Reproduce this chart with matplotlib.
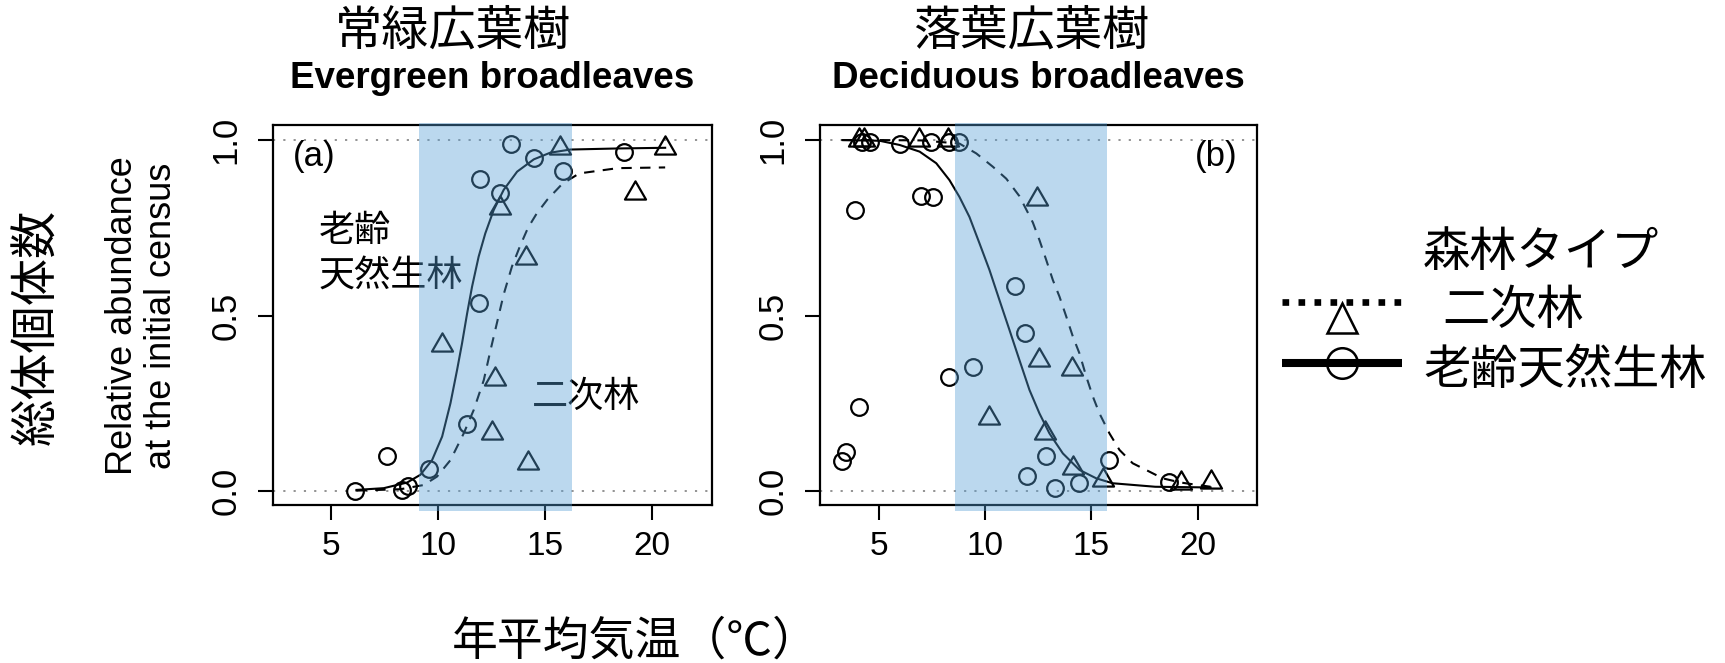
import matplotlib
matplotlib.use("Agg")
import matplotlib.pyplot as plt
from matplotlib.path import Path

plt.rcParams['font.family'] = ['Liberation Sans', 'Noto Sans CJK JP', 'DejaVu Sans']
JP = ['Noto Sans CJK JP', 'DejaVu Sans']

# ---- data ----
# (a) evergreen broadleaves
a_old_x = [6.1, 7.6, 8.3, 8.6, 9.55, 11.35, 11.92, 11.96, 12.9, 13.4, 14.5, 15.85, 18.67]
a_old_y = [0.0, 0.10, 0.004, 0.013, 0.062, 0.19, 0.535, 0.89, 0.85, 0.99, 0.95, 0.912, 0.967]
a_sec_x = [10.18, 12.52, 12.64, 12.9, 14.1, 14.2, 15.7, 19.2, 20.6]
a_sec_y = [0.415, 0.165, 0.32, 0.805, 0.665, 0.08, 0.976, 0.848, 0.977]

a_old_cx = [6.17, 7.45, 8.54, 9.16, 9.71, 10.18, 10.57, 10.88, 11.11, 11.35, 11.58,
            11.89, 12.2, 12.59, 13.06, 13.69, 14.47, 15.24, 16.18, 18.36, 20.62]
a_old_cy = [0.003, 0.008, 0.024, 0.046, 0.088, 0.155, 0.25, 0.345, 0.42, 0.506, 0.582,
            0.668, 0.734, 0.80, 0.858, 0.91, 0.945, 0.964, 0.973, 0.976, 0.978]
a_sec_cx = [6.17, 8.23, 9.32, 9.94, 10.57, 11.19, 11.66, 12.13, 12.44, 12.75, 13.06,
            13.45, 13.84, 14.2, 14.6, 15.1, 15.8, 16.6, 18.4, 20.62]
a_sec_cy = [0.001, 0.005, 0.017, 0.041, 0.088, 0.164, 0.231, 0.316, 0.40, 0.48, 0.56,
            0.64, 0.70, 0.75, 0.79, 0.83, 0.875, 0.905, 0.92, 0.922]
a_band = (9.1, 16.25)

# (b) deciduous broadleaves
b_old_x = [3.29, 3.48, 3.87, 4.08, 4.2, 4.6, 6.0, 7.0, 7.45, 7.55, 8.3, 8.3, 8.8,
           9.46, 11.39, 11.88, 11.96, 12.88, 13.27, 14.44, 15.85, 18.67]
b_old_y = [0.084, 0.11, 0.80, 0.24, 0.995, 0.995, 0.99, 0.84, 0.995, 0.837, 0.995,
           0.324, 0.995, 0.354, 0.583, 0.449, 0.042, 0.099, 0.008, 0.024, 0.087, 0.025]
b_sec_x = [4.1, 4.3, 6.9, 8.25, 10.18, 12.46, 12.56, 12.84, 14.1, 14.14, 15.56, 19.22, 20.6]
b_sec_y = [1.0, 1.0, 1.0, 1.0, 0.207, 0.832, 0.373, 0.164, 0.347, 0.065, 0.03, 0.022, 0.026]

b_old_cx = [3.3, 4.2, 5.05, 5.99, 6.93, 7.71, 8.33, 8.8, 9.27, 9.74, 10.21, 10.68, 11.15,
            11.62, 12.09, 12.56, 13.03, 13.66, 14.44, 15.23, 16.0, 18.0, 20.6]
b_old_cy = [1.0, 0.999, 0.998, 0.986, 0.967, 0.934, 0.886, 0.838, 0.781, 0.706, 0.63, 0.544,
            0.459, 0.373, 0.288, 0.221, 0.164, 0.107, 0.06, 0.036, 0.022, 0.012, 0.01]
b_sec_cx = [3.3, 5.0, 7.0, 8.8, 9.59, 10.37, 11.0, 11.62, 12.0, 12.25, 12.56, 12.88, 13.19,
            13.5, 13.82, 14.13, 14.44, 14.76, 15.07, 15.38, 15.85, 16.32, 16.94, 17.73,
            18.35, 19.2, 20.6]
b_sec_cy = [1.0, 1.0, 0.999, 0.99, 0.962, 0.924, 0.89, 0.84, 0.795, 0.765, 0.715, 0.658,
            0.601, 0.554, 0.497, 0.44, 0.392, 0.326, 0.269, 0.221, 0.164, 0.117, 0.079,
            0.055, 0.036, 0.024, 0.012]
b_band = (8.6, 15.73)

x_ticks = [5, 10, 15, 20]
y_ticks = [0.0, 0.5, 1.0]
y_ticklabels = ['0.0', '0.5', '1.0']

# equilateral triangle like R's pch=2
TRI = Path([(-0.866, -0.5), (0.866, -0.5), (0.0, 1.0), (0.0, 0.0)], closed=True)
BAND = '#559ed5'

fig = plt.figure(figsize=(17.25, 6.63), dpi=100)
ax_a = fig.add_axes([0.1581, 0.2383, 0.2545, 0.5732])
ax_b = fig.add_axes([0.4754, 0.2383, 0.2535, 0.5732])


def draw_panel(ax, old_x, old_y, sec_x, sec_y, old_cx, old_cy, sec_cx, sec_cy, band):
    for yy in (0, 1):
        ax.axhline(yy, color='#8a8a8a', lw=1.3, ls=(0, (1.2, 4.5)), zorder=1)
    ax.plot(old_cx, old_cy, color='black', lw=1.5, zorder=3)
    ax.plot(sec_cx, sec_cy, color='black', lw=1.5, ls=(0, (5, 4)), zorder=3)
    ax.plot(old_x, old_y, ls='none', marker='o', ms=12, mfc='none',
            mec='black', mew=1.6, zorder=4)
    ax.plot(sec_x, sec_y, ls='none', marker=TRI, ms=17.5, mfc='none',
            mec='black', mew=1.6, zorder=4)
    ax.axvspan(band[0], band[1], ymin=-0.0145, ymax=1.004, color=BAND, alpha=0.4,
               lw=0, zorder=6, clip_on=False)
    ax.set_xlim(2.25, 22.8)
    ax.set_ylim(-0.04, 1.043)
    ax.set_xticks(x_ticks)
    ax.set_yticks(y_ticks)
    ax.set_yticklabels(y_ticklabels, rotation=90, va='center')
    ax.tick_params(length=11, width=1.5, labelsize=24, color='black')
    ax.tick_params(axis='y', labelsize=25, pad=11)
    ax.tick_params(axis='x', pad=8)
    for sp in ax.spines.values():
        sp.set_linewidth(1.6)


draw_panel(ax_a, a_old_x, a_old_y, a_sec_x, a_sec_y, a_old_cx, a_old_cy, a_sec_cx, a_sec_cy, a_band)
draw_panel(ax_b, b_old_x, b_old_y, b_sec_x, b_sec_y, b_old_cx, b_old_cy, b_sec_cx, b_sec_cy, b_band)

ax_a.text(0.046, 0.916, '(a)', transform=ax_a.transAxes, fontsize=25, ha='left', va='center')
ax_b.text(0.954, 0.916, '(b)', transform=ax_b.transAxes, fontsize=25, ha='right', va='center')

# inline labels in panel (a)
ax_a.text(4.39, 0.677, '老齢\n天然生林', family=JP, fontsize=26, ha='left', va='center',
          linespacing=1.3, zorder=2)
ax_a.text(14.39, 0.268, '二次林', family=JP, fontsize=26, ha='left', va='center', zorder=2)

# titles
fig.text(0.2629, 0.9532, '常緑広葉樹', family=JP, fontsize=34, ha='center', va='center')
fig.text(0.5977, 0.9532, '落葉広葉樹', family=JP, fontsize=34, ha='center', va='center')
fig.text(0.2852, 0.8816, 'Evergreen broadleaves', fontsize=26.5, fontweight='bold',
         ha='center', va='center')
fig.text(0.6020, 0.8816, 'Deciduous broadleaves', fontsize=26.5, fontweight='bold',
         ha='center', va='center')

# axis labels
fig.text(0.3681, 0.0332, '年平均気温（℃）', family=JP, fontsize=33, ha='center', va='center')
fig.text(0.0214, 0.5068, '総体個体数', family=JP, fontsize=34, rotation=90,
         ha='center', va='center')
fig.text(0.0823, 0.5234, 'Relative abundance\nat the initial census', fontsize=26,
         rotation=90, ha='center', va='center', multialignment='center', linespacing=1.15)

# legend (drawn by hand in pixel coordinates)
lax = fig.add_axes([0, 0, 1, 1], zorder=-1)
lax.set_xlim(0, 1725)
lax.set_ylim(663, 0)
lax.axis('off')
lax.plot([1282, 1402], [302, 302], color='black', lw=4.8, ls=(0, (1, 1.4)),
         dash_capstyle='butt')
lax.plot([1342], [318], marker='^', ms=21, mfc='none', mec='black', mew=1.8)
lax.plot([1282, 1402], [363, 363], color='black', lw=5.8, solid_capstyle='butt')
lax.plot([1342], [363], marker='o', ms=22, mfc='none', mec='black', mew=1.8)
fig.text(0.8249, 0.6184, '森林タイプ', family=JP, fontsize=34, ha='left', va='center')
fig.text(0.8359, 0.5309, '二次林', family=JP, fontsize=34, ha='left', va='center')
fig.text(0.8249, 0.4404, '老齢天然生林', family=JP, fontsize=34, ha='left', va='center')

fig.savefig('out.png', dpi=100, facecolor='white')
